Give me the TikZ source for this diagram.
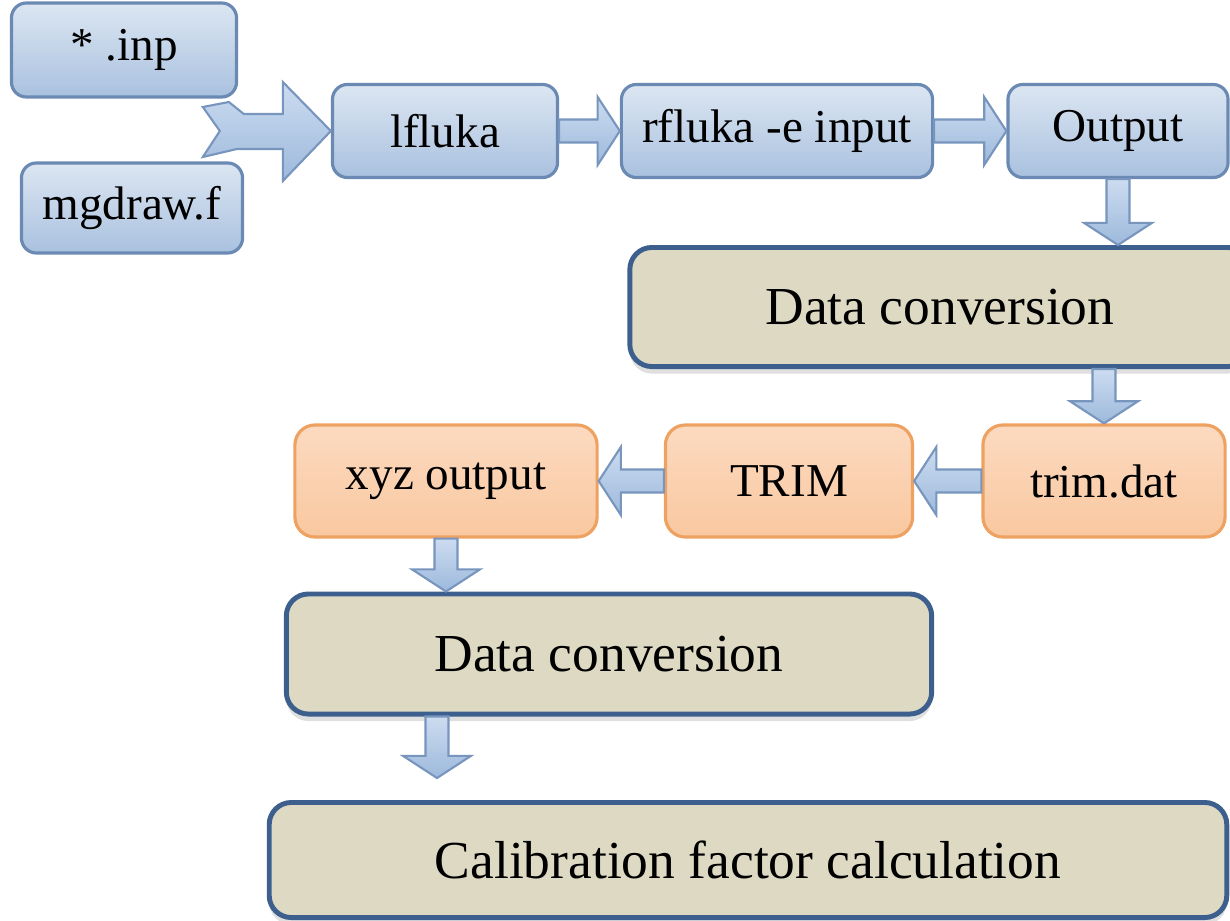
\documentclass[tikz,border=0pt]{standalone}
\usepackage{fontspec}
\setmainfont{Liberation Serif}
\usepackage{tikz}
\usetikzlibrary{positioning,calc,shadows}
\usepackage{xcolor}

\definecolor{boxtop}{HTML}{DCE6F2}
\definecolor{boxbot}{HTML}{A9C1DF}
\definecolor{boxline}{HTML}{6B8AB3}
\definecolor{arrtop}{HTML}{CCDCF0}
\definecolor{arrbot}{HTML}{9DB9DC}
\definecolor{arrline}{HTML}{7895BE}
\definecolor{orgtop}{HTML}{FCDAC0}
\definecolor{orgbot}{HTML}{F9C8A0}
\definecolor{orgline}{HTML}{EEA262}
\definecolor{khaki}{HTML}{DDD9C3}
\definecolor{khakiline}{HTML}{3D5F8D}

\tikzset{
  bluebox/.style={draw=boxline, line width=0.9pt, rounded corners=0.15cm,
    top color=boxtop, bottom color=boxbot, inner sep=0pt,
    font=\fontsize{13.4}{16}\selectfont},
  orangebox/.style={draw=orgline, line width=0.9pt, rounded corners=0.2cm,
    top color=orgtop, bottom color=orgbot, inner sep=0pt,
    font=\fontsize{13.4}{16}\selectfont},
  stagebox/.style={draw=khakiline, line width=1.4pt, rounded corners=0.22cm,
    fill=khaki, inner sep=0pt, font=\fontsize{15.2}{18}\selectfont,
    drop shadow={opacity=0.25, shadow xshift=0pt, shadow yshift=-0.07cm}},
  flowarrow/.style={draw=arrline, line width=0.6pt, top color=arrtop,
    bottom color=arrbot, line join=miter}
}

% block arrow from #1 to #2
\newcommand{\blockarrow}[2]{%
  \path[flowarrow] let \p1=(#1), \p2=(#2),
    \n1={atan2(\y2-\y1,\x2-\x1)}, \n2={veclen(\x2-\x1,\y2-\y1)} in
    (\p1) ++(\n1+90:3.27pt) -- ++(\n1:{\n2-6.3pt}) -- ++(\n1+90:6.4pt) -- (\p2)
    -- ($(\p1)+(\n1:{\n2-6.3pt})+(\n1-90:9.67pt)$) -- ++(\n1+90:6.4pt)
    -- ++(\n1+180:{\n2-6.3pt}) -- cycle;}

\begin{document}
\begin{tikzpicture}[x=0.01cm, y=-0.01cm]
    \useasboundingbox (0,0) rectangle (1230,921);

    % Input files
    \node[bluebox, minimum width=2.25cm, minimum height=0.94cm] (inp) at (124,50) {* .inp};
    \node[bluebox, minimum width=2.21cm, minimum height=0.9cm] (mgd) at (132,208) {mgdraw.f};

    % FLUKA run
    \node[bluebox, minimum width=2.25cm, minimum height=0.93cm] (lfluka) at (445,131) {lfluka};
    \node[bluebox, minimum width=3.11cm, minimum height=0.93cm] (rfluka) at (777,131) {rfluka -e input};
    \node[bluebox, minimum width=2.2cm, minimum height=0.93cm] (output) at (1118,131) {Output};

    % Conversion for TRIM
    \node[stagebox, minimum width=6.2cm, minimum height=1.19cm] (conv1) at (940,307) {Data conversion};

    % TRIM run
    \node[orangebox, minimum width=2.42cm, minimum height=1.12cm] (trimdat) at (1104,481) {trim.dat};
    \node[orangebox, minimum width=2.47cm, minimum height=1.12cm] (trim) at (789,481) {TRIM};
    \node[orangebox, minimum width=3.02cm, minimum height=1.12cm] (xyz) at (446,481) {xyz output};

    % Final steps
    \node[stagebox, minimum width=6.45cm, minimum height=1.2cm] (conv2) at (609,654) {Data conversion};
    \node[stagebox, minimum width=9.57cm, minimum height=1.15cm] (calib) at (748,860) {Calibration factor calculation};
    \coordinate (calibtip) at (437,778);

    % Merging arrow into lfluka
    \draw[flowarrow] (lfluka.west) -- ++(-48,-49) -- ++(0,32) -- ++(-39,0) -- ++(-15,-12)
        -- ++(-26,5) -- ++(17,24) -- ++(-17,26) -- ++(34,-8) -- ++(46,0) -- ++(0,32) -- cycle;

    % Flow arrows
    \blockarrow{lfluka.east}{rfluka.west}
    \blockarrow{rfluka.east}{output.west}
    \blockarrow{output.south}{output.south |- conv1.north}
    \blockarrow{trimdat.north |- conv1.south}{trimdat.north}
    \blockarrow{trimdat.west}{trim.east}
    \blockarrow{trim.west}{xyz.east}
    \blockarrow{xyz.south}{xyz.south |- conv2.north}
    \blockarrow{calibtip |- conv2.south}{calibtip}
\end{tikzpicture}
\end{document}
